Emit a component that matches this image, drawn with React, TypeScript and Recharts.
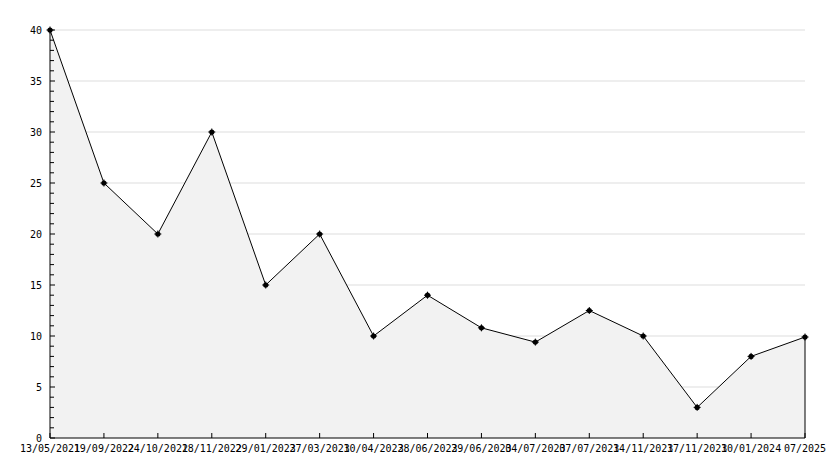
import React from 'react';
import { AreaChart, Area, XAxis, YAxis, CartesianGrid, ReferenceLine } from 'recharts';

const dateLabels = [
  '13/05/2021', '19/09/2022', '24/10/2022', '18/11/2022', '29/01/2023',
  '27/03/2023', '10/04/2023', '28/06/2023', '29/06/2023', '04/07/2023',
  '07/07/2023', '14/11/2023', '17/11/2023', '10/01/2024', '07/2025',
];
const values = [40, 25, 20, 30, 15, 20, 10, 14, 10.8, 9.4, 12.5, 10, 3, 8, 9.9];
const yTicks = Array.from({ length: 41 }, (_, i) => i);
const yLabelStep = 5;
const gridValues = [5, 10, 15, 20, 25, 30, 35, 40];

const data = dateLabels.map((d, i) => ({ date: d, value: values[i] }));

const FONT = '"DejaVu Sans Mono", monospace';

const XTick = (props: any) => {
  const { x, y, payload } = props;
  return (
    <g>
      <line x1={x} x2={x} y1={y} y2={y - 5} stroke="#000" strokeWidth={1} />
      <text x={x} y={y + 14} textAnchor="middle" fontFamily={FONT} fontSize={10} fill="#000">
        {payload.value}
      </text>
    </g>
  );
};

const YTick = (props: any) => {
  const { x, y, payload } = props;
  const major = payload.value % yLabelStep === 0;
  return (
    <g>
      <line x1={x} x2={x + (major ? 5 : 4)} y1={y} y2={y} stroke="#000" strokeWidth={1} />
      {major && (
        <text x={x - 8} y={y + 3.5} textAnchor="end" fontFamily={FONT} fontSize={10} fill="#000">
          {payload.value}
        </text>
      )}
    </g>
  );
};

const Dot = (props: any) => {
  const { cx, cy } = props;
  if (cx == null || cy == null) return null;
  return (
    <g>
      <circle cx={cx} cy={cy} r={2.6} fill="#000" />
      <line x1={cx - 3.5} x2={cx + 3.5} y1={cy} y2={cy} stroke="#000" strokeWidth={1} />
      <line x1={cx} x2={cx} y1={cy - 3.5} y2={cy + 3.5} stroke="#000" strokeWidth={1} />
    </g>
  );
};

export default function App() {
  const last = data[data.length - 1];
  return (
    <div style={{ position: 'absolute', left: 0, top: 0, width: 834, height: 468, background: '#fff' }}>
      <AreaChart width={834} height={468} data={data} margin={{ top: 30, right: 29, bottom: 0, left: 0 }}>
        <CartesianGrid
          vertical={false}
          stroke="#dddddd"
          horizontalValues={gridValues}
        />
        <XAxis
          dataKey="date"
          scale="point"
          padding={{ left: 0, right: 0 }}
          interval={0}
          height={30}
          tickSize={0}
          tickMargin={0}
          tickLine={false}
          axisLine={{ stroke: '#000' }}
          tick={<XTick />}
        />
        <YAxis
          width={50}
          domain={[0, 40]}
          ticks={yTicks}
          interval={0}
          tickSize={0}
          tickMargin={0}
          tickLine={false}
          axisLine={{ stroke: '#000' }}
          tick={<YTick />}
        />
        <Area
          type="linear"
          dataKey="value"
          stroke="#000"
          strokeWidth={1}
          fill="#f2f2f2"
          fillOpacity={1}
          dot={<Dot />}
          activeDot={false}
          isAnimationActive={false}
        />
        <ReferenceLine
          segment={[{ x: last.date, y: 0 }, { x: last.date, y: last.value }]}
          stroke="#000"
          strokeWidth={1}
          ifOverflow="visible"
        />
      </AreaChart>
    </div>
  );
}
